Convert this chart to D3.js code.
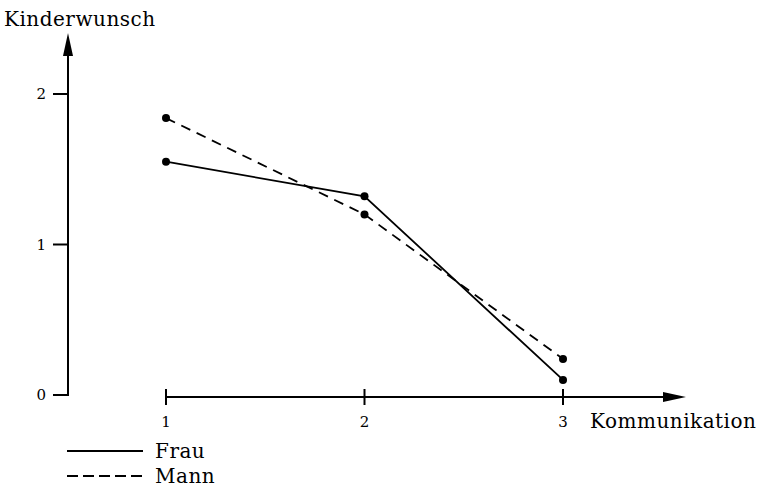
<!DOCTYPE html>
<meta charset="utf-8">
<head>
    <title>Kinderwunsch</title>
    <script src="https://d3js.org/d3.v7.min.js"></script>
</head>
<style>
    body {
        margin: 0;
        background-color: #fff;
        font-family: "DejaVu Serif", "Liberation Serif", serif;
    }
    .axis-line {
        stroke: #000;
        stroke-width: 2px;
        fill: none;
    }
    .tick-label {
        font-size: 15px;
    }
    .big-label {
        font-size: 20px;
        letter-spacing: 0.5px;
    }
    .series {
        fill: none;
        stroke: #000;
        stroke-width: 1.8px;
    }
    .dot {
        fill: #000;
    }
</style>
<body>
<svg width="762" height="487"></svg>
<script>
    var categories = [1, 2, 3];
    var yTicks = [0, 1, 2];
    var frau = [1.55, 1.32, 0.10];
    var mann = [1.84, 1.20, 0.24];
    var seriesNames = ["Frau", "Mann"];

    var svg = d3.select("svg");

    var x = d3.scaleLinear().domain([1, 3]).range([166, 563]);
    var y = d3.scaleLinear().domain([0, 2]).range([395, 94]);

    var yAxisX = 68;
    var xAxisY = y(0) + 2;

    // y axis
    svg.append("line")
        .attr("class", "axis-line")
        .attr("x1", yAxisX).attr("x2", yAxisX)
        .attr("y1", y(0) + 1).attr("y2", 50);
    svg.append("path")
        .attr("d", "M" + yAxisX + ",33 L" + (yAxisX - 5) + ",56 L" + (yAxisX + 5) + ",56 Z")
        .attr("fill", "#000");

    svg.selectAll(".ytick")
        .data(yTicks)
        .enter().append("line")
        .attr("class", "axis-line")
        .attr("x1", yAxisX - 15).attr("x2", yAxisX + 1)
        .attr("y1", function(d) { return y(d); })
        .attr("y2", function(d) { return y(d); });

    svg.selectAll(".ylabel")
        .data(yTicks)
        .enter().append("text")
        .attr("class", "tick-label")
        .attr("x", 46)
        .attr("y", function(d) { return y(d) + 5; })
        .attr("text-anchor", "end")
        .text(function(d) { return d; });

    svg.append("text")
        .attr("class", "big-label")
        .attr("x", 4)
        .attr("y", 26)
        .text("Kinderwunsch");

    // x axis
    svg.append("line")
        .attr("class", "axis-line")
        .attr("x1", x(1)).attr("x2", 668)
        .attr("y1", xAxisY).attr("y2", xAxisY);
    svg.append("path")
        .attr("d", "M686," + xAxisY + " L663," + (xAxisY - 5) + " L663," + (xAxisY + 5) + " Z")
        .attr("fill", "#000");

    svg.selectAll(".xtick")
        .data(categories)
        .enter().append("line")
        .attr("class", "axis-line")
        .attr("x1", function(d) { return x(d); })
        .attr("x2", function(d) { return x(d); })
        .attr("y1", xAxisY - 8).attr("y2", xAxisY + 8);

    svg.selectAll(".xlabel")
        .data(categories)
        .enter().append("text")
        .attr("class", "tick-label")
        .attr("x", function(d) { return x(d); })
        .attr("y", xAxisY + 30)
        .attr("text-anchor", "middle")
        .text(function(d) { return d; });

    svg.append("text")
        .attr("class", "big-label")
        .attr("x", 590)
        .attr("y", xAxisY + 31)
        .text("Kommunikation");

    // series
    var line = d3.line()
        .x(function(d, i) { return x(categories[i]); })
        .y(function(d) { return y(d); });

    var series = [
        {name: seriesNames[0], values: frau, dash: null},
        {name: seriesNames[1], values: mann, dash: "10,7"}
    ];

    series.forEach(function(s) {
        svg.append("path")
            .datum(s.values)
            .attr("class", "series")
            .attr("stroke-dasharray", s.dash)
            .attr("d", line);
        svg.selectAll(null)
            .data(s.values)
            .enter().append("circle")
            .attr("class", "dot")
            .attr("r", 4)
            .attr("cx", function(d, i) { return x(categories[i]); })
            .attr("cy", function(d) { return y(d); });
    });

    // legend
    var legend = svg.selectAll(".legend")
        .data(series)
        .enter().append("g")
        .attr("transform", function(d, i) { return "translate(0," + (451 + i * 25) + ")"; });

    legend.append("line")
        .attr("class", "series")
        .attr("x1", 67).attr("x2", 143)
        .attr("y1", 0).attr("y2", 0)
        .attr("stroke-dasharray", function(d) { return d.dash ? "11,5" : null; });

    legend.append("text")
        .attr("class", "big-label")
        .attr("x", 155)
        .attr("y", 7)
        .text(function(d) { return d.name; });
</script>
</body>
